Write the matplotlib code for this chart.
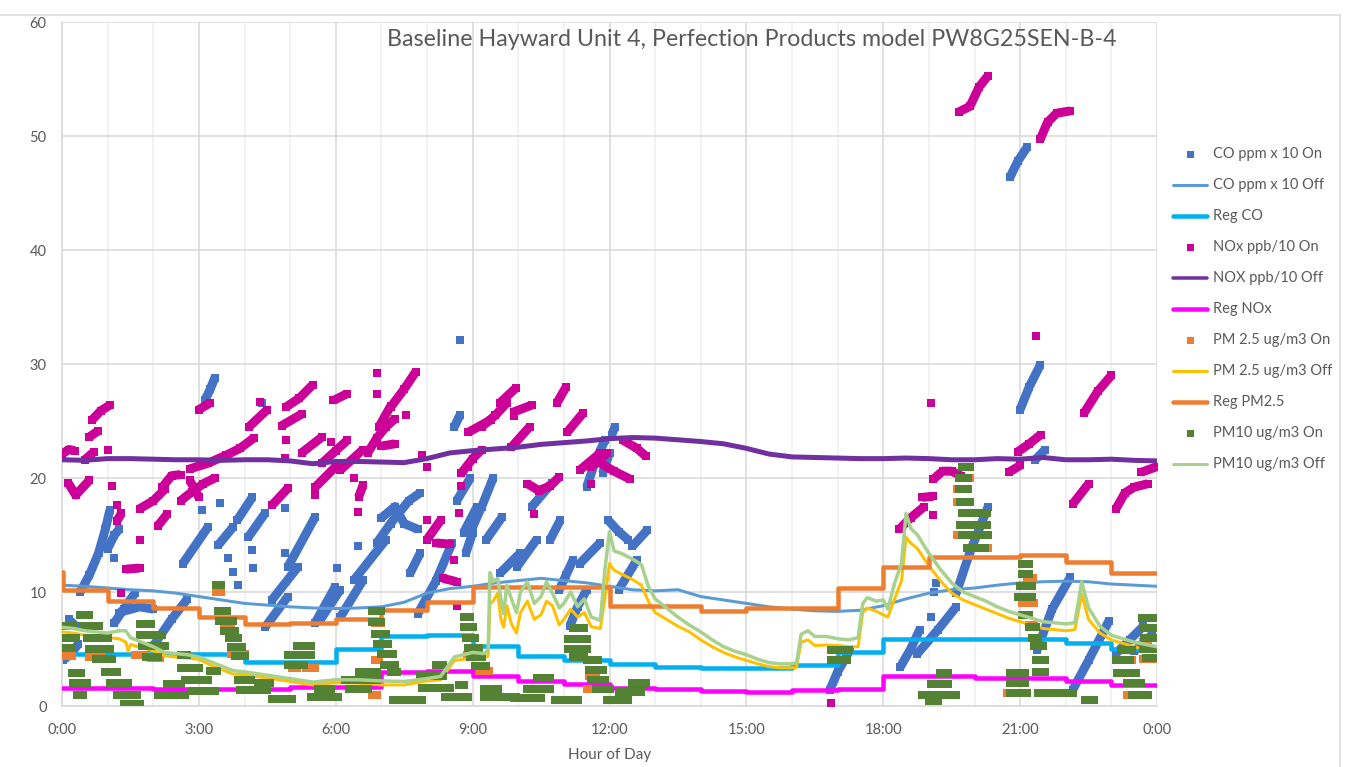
import matplotlib
matplotlib.use("Agg")
import matplotlib.pyplot as plt
from matplotlib.lines import Line2D

plt.rcParams['font.family'] = ['Lato', 'DejaVu Sans']

# ---------------------------------------------------------------- data
# Burner-off readings on a half-hour grid (hour of day)
off_t = [0, 0.5, 1, 1.5, 2, 2.5, 3, 3.5, 4, 4.5, 5, 5.5, 6, 6.5, 7, 7.5,
         8, 8.5, 9, 9.5, 10, 10.5, 11, 11.5, 12, 12.5, 13, 13.5, 14, 14.5,
         15, 15.5, 16, 16.5, 17, 17.5, 18, 18.5, 19, 19.5, 20, 20.5, 21,
         21.5, 22, 22.5, 23, 23.5, 24]
co_off = [10.6, 10.5, 10.35, 10.2, 10.1, 9.9, 9.6, 9.3, 9.0, 8.85, 8.7, 8.6,
          8.55, 8.6, 8.7, 9.1, 9.9, 10.3, 10.5, 10.8, 11.0, 11.2, 11.0, 10.8,
          10.5, 10.2, 10.1, 10.2, 9.6, 9.3, 9.0, 8.7, 8.5, 8.35, 8.3, 8.4,
          8.8, 9.4, 9.9, 10.2, 10.35, 10.6, 10.8, 10.9, 10.95, 10.9, 10.7,
          10.6, 10.5]
nox_off = [21.6, 21.55, 21.7, 21.7, 21.65, 21.6, 21.6, 21.55, 21.6, 21.6,
           21.5, 21.25, 21.45, 21.45, 21.4, 21.35, 21.7, 22.2, 22.4, 22.55,
           22.7, 22.95, 23.1, 23.25, 23.45, 23.55, 23.5, 23.35, 23.2, 23.0,
           22.6, 22.1, 21.85, 21.8, 21.75, 21.7, 21.7, 21.75, 21.7, 21.6,
           21.6, 21.7, 21.65, 21.8, 21.6, 21.6, 21.65, 21.55, 21.5]

# Particulate readings with the burner off
pm_off_t = [0.0, 0.25, 0.5, 0.75, 1.0, 1.25, 1.4, 1.45,
            1.5, 1.75, 2.0, 2.25, 2.5, 2.75, 3.0, 3.25,
            3.5, 3.75, 4.0, 4.5, 5.0, 5.5, 6.0, 6.5,
            7.0, 7.5, 8.0, 8.3, 8.6, 9.0, 9.25, 9.34,
            9.38, 9.45, 9.55, 9.62, 9.68, 9.75, 9.85, 9.96,
            10.05, 10.2, 10.35, 10.5, 10.62, 10.75, 10.9, 11.0,
            11.15, 11.3, 11.45, 11.6, 11.8, 11.9, 12.0, 12.1,
            12.25, 12.5, 12.7, 12.85, 13.0, 13.25, 13.5, 13.75,
            14.0, 14.25, 14.5, 14.75, 15.0, 15.25, 15.5, 15.75,
            16.0, 16.1, 16.2, 16.35, 16.5, 16.75, 17.0, 17.25,
            17.45, 17.55, 17.65, 17.85, 18.0, 18.1, 18.25, 18.4,
            18.5, 18.6, 18.75, 19.0, 19.25, 19.5, 19.75, 20.0,
            20.25, 20.5, 20.75, 21.0, 21.25, 21.5, 21.75, 22.0,
            22.2, 22.35, 22.5, 22.75, 23.0, 23.25, 23.5, 23.75,
            24.0]
pm25_off = [6.5, 6.4, 6.2, 6.1, 6.0, 5.9, 5.6, 4.8,
            5.4, 5.1, 4.85, 4.4, 4.3, 4.2, 4.1, 3.6,
            3.2, 2.8, 2.75, 2.45, 2.15, 1.85, 2.05, 2.0,
            1.85, 1.85, 2.2, 2.3, 4.0, 4.2, 4.2, 4.4,
            9.0, 9.2, 9.9, 7.6, 6.9, 8.8, 7.2, 6.4,
            8.2, 9.2, 7.6, 8.0, 9.2, 8.8, 7.1, 7.6,
            8.5, 7.8, 8.2, 6.95, 6.8, 9.5, 12.5, 11.9,
            11.6, 11.1, 10.6, 9.2, 8.2, 7.6, 7.0, 6.5,
            5.8, 5.2, 4.7, 4.3, 4.0, 3.7, 3.45, 3.35,
            3.35, 3.4, 5.6, 5.8, 5.3, 5.35, 5.3, 5.2,
            5.2, 8.2, 8.6, 8.3, 8.0, 7.8, 9.4, 11.0,
            14.8, 14.3, 13.8, 12.3, 11.0, 9.9, 9.3, 8.9,
            8.5, 8.1, 7.7, 7.4, 7.1, 6.8, 6.7, 6.6,
            6.7, 9.8, 7.6, 6.4, 5.8, 5.5, 5.2, 5.0,
            4.8]
pm10_off = [6.9, 6.8, 6.6, 6.5, 6.4, 6.6, 6.6, 6.3,
            6.0, 5.6, 5.2, 4.7, 4.6, 4.5, 4.3, 3.9,
            3.5, 3.1, 3.0, 2.7, 2.4, 2.1, 2.3, 2.3,
            2.2, 2.15, 2.4, 2.6, 4.3, 4.7, 4.6, 4.9,
            11.7, 10.9, 11.2, 9.4, 8.1, 10.6, 9.4, 8.2,
            10.0, 10.9, 9.0, 9.6, 10.9, 9.9, 8.6, 9.0,
            10.0, 8.7, 9.4, 7.8, 7.5, 12.0, 15.3, 13.6,
            13.4, 12.9, 12.4, 10.5, 9.4, 8.6, 7.8, 7.1,
            6.5, 5.8, 5.2, 4.8, 4.5, 4.1, 3.8, 3.7,
            3.7, 3.8, 6.3, 6.6, 6.1, 6.1, 5.9, 5.8,
            6.0, 9.0, 9.5, 9.2, 9.3, 8.5, 10.8, 12.5,
            16.9, 15.6, 15.0, 13.4, 12.0, 10.8, 10.0, 9.6,
            9.2, 8.7, 8.3, 8.0, 7.7, 7.4, 7.3, 7.2,
            7.3, 10.9, 8.6, 7.0, 6.2, 5.9, 5.6, 5.4,
            5.2]

# Hourly regression levels (value holds from each hour to the next)
reg_t = [0, 1, 2, 3, 4, 5, 6, 7, 8, 9, 10, 11, 12, 13, 14, 15, 16, 17, 18,
         19, 20, 21, 22, 23, 24]
reg_co = [4.6, 4.6, 4.6, 4.6, 3.9, 3.9, 5.0, 6.1, 6.2, 5.3, 4.4, 4.0, 3.7,
          3.45, 3.3, 3.3, 3.6, 4.7, 5.85, 5.85, 5.9, 5.9, 5.55, 5.0, 5.0]
reg_nox = [1.6, 1.6, 1.5, 1.5, 1.45, 1.7, 1.7, 3.0, 3.05, 2.6, 2.15, 1.9,
           1.6, 1.5, 1.35, 1.25, 1.4, 1.5, 2.6, 2.6, 2.45, 2.45, 2.15, 1.8,
           1.8]
reg_pm25_t = [0, 0.02, 1, 2, 3, 4, 5, 6, 7, 8, 9, 10, 11, 12, 13, 14, 15,
              16, 17, 18, 19, 20, 21, 22, 23, 24]
reg_pm25 = [11.75, 10.2, 9.2, 8.6, 7.8, 7.2, 7.3, 7.6, 8.4, 9.15, 10.4, 10.4,
            10.4, 8.8, 8.8, 8.3, 8.6, 8.6, 10.35, 12.2, 13.1, 13.1, 13.25,
            12.6, 11.7, 11.7]

# Burner-on CO readings: runs of consecutive readings (hour, value)
co_on_runs = [
    [(0.02, 4.0), (0.2, 4.6), (0.35, 5.4)],
    [(0.15, 7.6), (0.3, 7.0)],
    [(0.4, 10.0), (0.6, 11.5), (0.8, 13.4), (0.95, 15.5), (1.05, 17.2)],
    [(1.0, 13.8), (1.15, 15.0), (1.25, 15.5)],
    [(1.15, 7.3), (1.35, 8.5), (1.6, 9.9)],
    [(1.25, 8.2), (1.7, 8.7), (2.0, 8.5)],
    [(1.97, 5.1), (2.4, 7.6), (2.75, 9.4)],
    [(2.65, 12.5), (3.2, 15.7)],
    [(3.13, 26.8), (3.25, 27.8), (3.35, 28.8)],
    [(3.42, 14.1), (3.75, 15.7)],
    [(3.84, 16.3), (4.17, 18.3)],
    [(4.08, 14.8), (4.45, 16.9)],
    [(4.45, 6.9), (4.95, 9.6)],
    [(4.6, 9.3), (5.17, 12.2)],
    [(4.95, 12.2), (5.55, 16.6)],
    [(5.55, 7.3), (5.98, 10.4)],
    [(5.65, 7.5), (6.1, 10.2)],
    [(6.1, 7.8), (6.6, 11.05)],
    [(6.4, 11.05), (7.1, 14.6)],
    [(6.9, 14.3), (7.2, 16.0), (7.4, 17.0), (7.6, 18.0), (7.85, 18.7)],
    [(7.0, 16.5), (7.3, 17.5), (7.5, 16.0), (7.8, 15.5)],
    [(7.63, 11.65), (7.85, 13.4)],
    [(7.8, 8.1), (8.2, 11.0), (8.55, 14.3)],
    [(8.6, 24.5), (8.72, 25.5)],
    [(8.65, 18.0), (8.95, 20.0)],
    [(8.8, 15.2), (9.1, 17.5)],
    [(8.85, 13.4), (9.0, 15.2)],
    [(9.0, 15.7), (9.2, 17.5), (9.45, 20.0)],
    [(9.3, 14.6), (9.65, 16.6)],
    [(9.6, 11.65), (10.04, 13.4)],
    [(9.97, 12.2), (10.4, 14.6)],
    [(10.3, 17.5), (10.75, 19.6)],
    [(10.7, 14.6), (10.92, 16.3)],
    [(10.9, 10.2), (11.05, 11.5), (11.2, 12.8)],
    [(11.13, 7.0), (11.3, 8.7), (11.5, 10.2)],
    [(11.35, 12.5), (11.79, 14.3)],
    [(11.5, 19.2), (11.7, 21.6), (11.9, 23.3)],
    [(11.85, 20.4), (12.0, 22.2)],
    [(12.05, 23.8), (12.12, 24.5)],
    [(11.97, 16.3), (12.2, 15.3), (12.4, 14.6)],
    [(12.5, 14.0), (12.82, 15.4)],
    [(12.2, 10.2), (12.6, 12.8)],
    [(16.83, 1.4), (17.0, 3.0), (17.27, 4.9)],
    [(18.37, 3.4), (18.6, 5.0), (18.8, 6.7)],
    [(18.75, 4.6), (19.2, 6.7), (19.6, 8.7)],
    [(19.6, 9.9), (19.9, 13.5), (20.3, 17.5)],
    [(21.37, 4.9), (21.7, 8.5), (22.1, 11.3)],
    [(22.15, 1.4), (22.5, 4.0), (22.95, 7.5)],
    [(23.1, 4.6), (23.4, 5.8), (23.7, 7.0)],
    [(23.5, 4.8), (23.9, 6.3)],
    [(20.78, 46.4), (20.95, 47.8), (21.15, 49.0)],
    [(21.0, 26.0), (21.2, 28.0), (21.44, 29.9)],
    [(21.33, 21.6), (21.55, 22.5)],
]
co_on_single_t = [1.15, 3.07, 3.46, 3.64, 3.75, 3.86, 4.16, 4.18, 4.39, 4.89,
                  4.89, 6.03, 6.49, 8.72, 19.05, 19.12, 19.15]
co_on_single_v = [13.0, 17.2, 17.8, 13.0, 11.75, 10.6, 13.7, 12.1, 26.6, 13.4,
                  17.4, 12.1, 14.0, 32.1, 7.8, 10.0, 10.8]

# Burner-on NOx readings
nox_on_runs = [
    [(0.0, 22.1), (0.15, 22.5), (0.28, 22.4)],
    [(0.13, 19.6), (0.3, 18.5), (0.6, 19.8)],
    [(0.5, 21.6), (0.7, 22.3)],
    [(0.6, 23.6), (0.78, 24.1)],
    [(0.66, 25.1), (0.85, 25.9), (1.05, 26.4)],
    [(1.2, 16.2), (1.3, 16.9)],
    [(1.4, 12.0), (1.7, 12.1)],
    [(1.7, 17.3), (2.0, 18.0), (2.25, 19.0)],
    [(2.1, 15.8), (2.3, 16.8)],
    [(2.2, 19.2), (2.4, 20.2), (2.6, 20.3)],
    [(2.6, 18.0), (2.85, 18.8), (3.1, 19.5), (3.35, 20.0)],
    [(2.8, 19.8), (3.0, 18.3)],
    [(3.0, 26.0), (3.25, 26.6)],
    [(2.8, 20.8), (3.2, 21.3), (3.6, 22.0), (3.9, 22.6), (4.2, 23.5)],
    [(4.1, 24.5), (4.5, 26.0)],
    [(4.6, 17.6), (4.95, 19.1)],
    [(4.82, 24.6), (5.25, 25.6)],
    [(4.9, 26.2), (5.2, 27.0), (5.5, 28.2)],
    [(5.25, 22.2), (5.7, 23.6)],
    [(5.55, 19.2), (6.0, 21.0)],
    [(5.95, 26.8), (6.25, 27.4)],
    [(5.7, 21.3), (6.0, 22.4), (6.25, 23.3)],
    [(6.1, 20.7), (6.6, 22.5)],
    [(6.5, 18.3), (6.6, 19.4)],
    [(6.95, 24.5), (7.2, 26.3)],
    [(7.2, 26.2), (7.5, 27.8), (7.75, 29.3)],
    [(6.7, 22.2), (6.9, 23.5), (7.1, 24.5), (7.3, 25.2)],
    [(7.0, 22.8), (7.3, 23.0)],
    [(8.0, 14.6), (8.3, 16.3)],
    [(8.2, 14.3), (8.5, 14.2)],
    [(8.35, 11.2), (8.65, 10.9)],
    [(8.75, 20.4), (9.0, 21.7), (9.2, 22.5)],
    [(8.9, 24.0), (9.4, 25.1)],
    [(9.2, 24.5), (9.5, 25.5), (9.75, 26.6)],
    [(9.6, 26.6), (9.95, 27.9)],
    [(9.9, 25.8), (10.3, 26.4)],
    [(9.85, 22.7), (10.25, 24.5)],
    [(10.2, 19.5), (10.45, 18.9), (10.7, 19.3), (10.9, 20.1)],
    [(10.85, 26.6), (11.05, 28.0)],
    [(11.07, 24.0), (11.42, 25.7)],
    [(11.35, 20.7), (11.8, 22.2)],
    [(11.6, 21.0), (11.95, 22.2)],
    [(11.8, 21.3), (12.1, 20.6), (12.45, 19.9)],
    [(12.3, 23.3), (12.6, 22.6), (12.8, 21.9)],
    [(19.65, 52.1), (19.9, 52.6), (20.1, 54.3), (20.3, 55.3)],
    [(21.44, 49.7), (21.6, 51.2), (21.8, 52.0), (22.1, 52.2)],
    [(22.4, 25.7), (22.7, 27.6), (23.0, 29.0)],
    [(20.95, 22.3), (21.2, 23.0), (21.45, 23.8)],
    [(20.75, 20.5), (21.0, 21.1)],
    [(23.65, 20.5), (24.0, 21.0)],
    [(19.1, 19.9), (19.3, 20.6), (19.5, 20.6), (19.7, 20.2)],
    [(22.15, 17.7), (22.5, 19.5)],
    [(23.1, 17.3), (23.3, 18.7), (23.5, 19.2), (23.8, 19.5)],
    [(18.35, 15.5), (18.6, 16.5), (18.9, 17.5)],
    [(18.85, 18.3), (19.1, 18.4)],
]
nox_on_single_t = [1.0, 1.1, 1.2, 1.7, 1.3, 4.35, 4.9, 4.89, 5.55, 5.9, 6.4,
                   6.49, 6.9, 6.9, 7.55, 7.9, 8.0, 8.0, 8.6, 8.65, 8.7, 8.75,
                   8.9, 9.9, 10.35, 11.6, 16.85, 21.35, 19.05, 19.1]
nox_on_single_v = [22.5, 19.3, 17.6, 14.6, 9.9, 26.7, 23.3, 21.75, 18.5, 23.2,
                   20.0, 17.0, 29.2, 27.4, 25.5, 22.0, 21.0, 16.3, 12.8, 8.8,
                   16.9, 19.3, 21.0, 25.4, 16.8, 19.5, 0.3, 32.5, 26.6, 16.75]

# Burner-on particulate readings: level held from t0 to t1
pm10_on_t0 = [0.0, 0.0, 0.0, 0.4, 0.45, 0.55, 0.6, 0.75, 0.95, 1.05, 1.2, 1.35,
              0.22, 0.25, 0.33, 1.7, 1.7, 1.75, 1.85, 2.1, 2.3, 2.6, 2.6, 2.7,
              2.85, 3.25, 3.38, 3.42, 3.45, 3.55, 3.65, 3.7, 3.8, 3.85, 3.9,
              4.3, 4.6, 5.15, 4.95, 4.95, 5.45, 5.6, 6.2, 6.3, 6.5, 6.8, 6.8,
              6.85, 6.9, 7.0, 7.05, 7.2, 7.25, 7.85, 7.9, 8.2, 8.4, 8.7, 8.8,
              8.8, 8.85, 8.9, 8.95, 9.05, 9.25, 9.25, 9.9, 10.2, 10.4, 10.8,
              11.2, 11.1, 11.1, 11.2, 11.5, 11.55, 11.6, 11.7, 11.95, 12.2,
              12.5, 16.85, 16.85, 19.25, 19.05, 18.85, 19.0, 19.73, 19.65,
              19.65, 19.68, 19.72, 19.68, 19.72, 19.83, 21.05, 21.05, 21.0,
              20.95, 21.05, 21.2, 21.25, 21.3, 21.35, 21.35, 20.78, 20.78,
              20.78, 21.4, 22.42, 23.2, 23.1, 23.12, 23.35, 23.45, 23.68, 23.7,
              23.72, 23.7, 23.75]
pm10_on_t1 = [0.25, 0.3, 0.22, 0.6, 0.8, 1.0, 1.05, 1.1, 1.2, 1.45, 1.65, 1.7,
              0.42, 0.55, 0.46, 1.95, 2.2, 2.25, 2.1, 2.7, 2.6, 2.75, 3.0, 3.2,
              3.35, 3.4, 3.48, 3.62, 3.75, 3.8, 3.85, 3.95, 4.0, 4.15, 4.5,
              4.55, 5.05, 5.45, 5.45, 5.3, 6.05, 5.9, 6.9, 6.7, 6.9, 7.0, 7.0,
              7.1, 7.15, 7.25, 7.3, 7.35, 7.9, 8.35, 8.5, 8.35, 8.9, 8.8, 8.95,
              9.0, 9.05, 9.15, 9.2, 9.3, 9.95, 9.55, 10.5, 10.7, 10.7, 11.3,
              11.45, 11.5, 11.5, 11.45, 11.75, 11.85, 11.9, 12.0, 12.4, 12.7,
              12.8, 17.25, 17.2, 19.42, 19.42, 19.6, 19.2, 19.9, 19.85, 19.85,
              19.9, 20.27, 20.27, 20.3, 20.23, 21.2, 21.2, 21.25, 21.25, 21.2,
              21.35, 21.4, 21.5, 21.55, 21.55, 21.1, 21.1, 21.15, 22.15, 22.62,
              23.45, 23.4, 23.55, 23.65, 23.8, 23.95, 24.0, 24.0, 24.0, 24.0]
pm10_on_v = [7.0, 6.0, 5.1, 8.0, 7.0, 6.0, 5.0, 4.1, 3.0, 2.0, 1.0, 0.2,
             2.9, 2.0, 1.0, 7.2, 6.2, 5.3, 4.3, 1.0, 1.9, 4.5, 3.3, 2.3,
             1.3, 3.1, 10.6, 8.3, 7.5, 6.6, 6.0, 5.2, 4.4, 2.3, 1.4,
             2.0, 0.6, 5.3, 4.5, 3.6, 0.8, 1.5, 2.3, 1.5, 3.0, 8.3, 7.4,
             6.3, 5.4, 4.6, 3.6, 3.0, 0.5, 2.6, 1.6, 3.6, 0.8, 1.8, 7.8,
             6.9, 6.0, 5.1, 4.3, 3.5, 0.8, 1.5, 0.7, 1.5, 2.5, 0.5,
             6.8, 5.9, 5.0, 4.3, 4.0, 3.2, 2.3, 1.5, 0.5, 1.2,
             2.0, 4.9, 4.0, 2.9, 1.9, 1.0, 0.4, 21.0, 20.0,
             19.0, 17.9, 16.9, 15.9, 15.0, 13.9, 12.5, 11.6, 10.5,
             9.6, 8.0, 6.9, 6.0, 5.3, 4.0, 3.0, 2.9, 2.0,
             1.1, 1.1, 0.5, 4.9, 4.0, 2.9, 2.0, 1.0, 7.7, 6.8,
             6.0, 5.0, 4.2]

pm25_on_t0 = [0.02, 0.6, 1.35, 1.6, 1.95, 3.38, 3.55, 3.7, 5.05, 5.35, 6.85,
              6.85, 6.8, 8.87, 9.15, 11.2, 11.5, 11.55, 19.62, 20.23, 19.62,
              19.62, 19.85, 21.15, 21.05, 21.2, 19.15, 20.72, 23.35, 23.35,
              23.7, 23.7, 23.7]
pm25_on_t1 = [0.22, 0.85, 1.55, 1.8, 2.15, 3.48, 3.7, 4.0, 5.15, 5.55, 7.0,
              6.95, 6.9, 8.95, 9.35, 11.45, 11.65, 11.7, 19.72, 20.3, 19.66,
              19.68, 19.9, 21.28, 21.3, 21.3, 19.25, 20.8, 23.45, 23.45,
              24.0, 23.8, 23.8]
pm25_on_v = [4.4, 4.3, 0.2, 4.5, 4.2, 10.0, 6.9, 4.6, 3.3, 3.3, 7.3,
             4.0, 1.0, 4.5, 3.1, 4.5, 1.5, 2.6, 15.0, 13.9, 19.0,
             17.9, 20.0, 11.2, 9.0, 7.1, 1.0, 1.1, 4.0, 1.0,
             4.1, 6.8, 5.6]

xtick_hours = [0, 3, 6, 9, 12, 15, 18, 21, 24]
xtick_labels = ['0:00', '3:00', '6:00', '9:00', '12:00', '15:00', '18:00',
                '21:00', '0:00']
ytick_values = [0, 10, 20, 30, 40, 50, 60]

# ---------------------------------------------------------------- styling
W, H, DPI = 1350, 767, 100
PT = 72 / DPI                      # points per pixel
MK = 8 * PT                        # square marker edge
RUN_LW = 9 * PT                    # stroke for runs of on-readings
TXT = '#595959'
GRID = '#d9d9d9'

C_CO_ON, C_CO_OFF, C_REG_CO = '#4472C4', '#5B9BD5', '#00B0F0'
C_NOX_ON, C_NOX_OFF, C_REG_NOX = '#CC0099', '#7030A0', '#FF00FF'
C_PM25_ON, C_PM25_OFF, C_REG_PM25 = '#ED7D31', '#FFC000', '#ED7D31'
C_PM10_ON, C_PM10_OFF = '#548235', '#A9D18E'

fig = plt.figure(figsize=(W / DPI, H / DPI), dpi=DPI)
ax = fig.add_axes([62 / W, 1 - 706 / H, (1157 - 62) / W, (706 - 22) / H])
ax.set_xlim(0, 24)
ax.set_ylim(0, 60)


def draw_runs(runs, single_t, single_v, color, z):
    for run in runs:
        t = [p[0] for p in run]
        v = [p[1] for p in run]
        ax.plot(t, v, color=color, lw=RUN_LW, marker='s', ms=MK, mew=0,
                solid_capstyle='butt', solid_joinstyle='round', zorder=z)
    ax.plot(single_t, single_v, ls='none', marker='s', ms=MK, mew=0,
            color=color, zorder=z)


def draw_levels(t0, t1, v, color, z):
    lc = ax.hlines(v, t0, t1, colors=color, lw=MK, zorder=z)
    lc.set_capstyle('projecting')


# series in workbook order
draw_runs(co_on_runs, co_on_single_t, co_on_single_v, C_CO_ON, 2)
ax.plot(off_t, co_off, color=C_CO_OFF, lw=3 * PT, zorder=3)
ax.step(reg_t, reg_co, where='post', color=C_REG_CO, lw=4.5 * PT, zorder=4)
draw_runs(nox_on_runs, nox_on_single_t, nox_on_single_v, C_NOX_ON, 5)
ax.plot(off_t, nox_off, color=C_NOX_OFF, lw=5 * PT, zorder=6)
ax.step(reg_t, reg_nox, where='post', color=C_REG_NOX, lw=4.5 * PT, zorder=7)
draw_levels(pm25_on_t0, pm25_on_t1, pm25_on_v, C_PM25_ON, 8)
ax.plot(pm_off_t, pm25_off, color=C_PM25_OFF, lw=3 * PT, zorder=9)
ax.step(reg_pm25_t, reg_pm25, where='post', color=C_REG_PM25, lw=4.5 * PT,
        zorder=10)
draw_levels(pm10_on_t0, pm10_on_t1, pm10_on_v, C_PM10_ON, 11)
ax.plot(pm_off_t, pm10_off, color=C_PM10_OFF, lw=3.5 * PT, zorder=12)

# axes, ticks, grid
ax.set_xticks(xtick_hours)
ax.set_xticklabels(xtick_labels)
ax.set_xticks(range(0, 25), minor=True)
ax.set_yticks(ytick_values)
ax.set_axisbelow(True)
ax.grid(which='major', color=GRID, lw=1.6 * PT)
ax.grid(which='minor', axis='x', color='#efefef', lw=1.6 * PT)
ax.tick_params(which='both', length=0)
ax.tick_params(axis='y', pad=11, labelsize=10.5, labelcolor=TXT)
ax.tick_params(axis='x', pad=12, labelsize=10.5, labelcolor=TXT)
for side in ('top', 'right'):
    ax.spines[side].set_visible(False)
for side in ('left', 'bottom'):
    ax.spines[side].set_color(GRID)
    ax.spines[side].set_linewidth(1.6 * PT)
ax.set_xlabel('Hour of Day', fontsize=11, color=TXT, labelpad=8)

# caption inside the plot area
cap = fig.text(752 / W, 1 - 40 / H,
               'Baseline Hayward Unit 4, Perfection Products model PW8G25SEN-B-4',
               ha='center', va='center', fontsize=15, color=TXT)
fig.canvas.draw()
cw = cap.get_window_extent().width
cap.set_fontsize(15 * 731 / cw)

# legend
legend_items = [
    ('CO ppm x 10 On', 'm', C_CO_ON, 0),
    ('CO ppm x 10 Off', 'l', C_CO_OFF, 3),
    ('Reg CO', 'l', C_REG_CO, 4.5),
    ('NOx ppb/10 On', 'm', C_NOX_ON, 0),
    ('NOX ppb/10 Off', 'l', C_NOX_OFF, 3.5),
    ('Reg NOx', 'l', C_REG_NOX, 4.5),
    ('PM 2.5 ug/m3 On', 'm', C_PM25_ON, 0),
    ('PM 2.5 ug/m3 Off', 'l', C_PM25_OFF, 3),
    ('Reg PM2.5', 'l', C_REG_PM25, 4.5),
    ('PM10 ug/m3 On', 'm', C_PM10_ON, 0),
    ('PM10 ug/m3 Off', 'l', C_PM10_OFF, 3),
]
for i, (label, kind, color, lw) in enumerate(legend_items):
    yf = 1 - (154 + 31 * i) / H
    if kind == 'm':
        fig.add_artist(Line2D([1190 / W], [yf], marker='s', ms=7 * PT, mew=0,
                              color=color, ls='none'))
    else:
        fig.add_artist(Line2D([1173 / W, 1207 / W], [yf, yf], color=color,
                              lw=lw * PT, solid_capstyle='round'))
    fig.text(1213 / W, yf, label, ha='left', va='center', fontsize=10.5,
             color=TXT)

# chart-area frame
fig.add_artist(Line2D([0, 1340 / W], [1 - 15 / H, 1 - 15 / H], color=GRID,
                      lw=1.5 * PT))
fig.add_artist(Line2D([1340 / W, 1340 / W], [1 - 15 / H, 0], color=GRID,
                      lw=1.5 * PT))

fig.savefig('out.png', dpi=DPI)
